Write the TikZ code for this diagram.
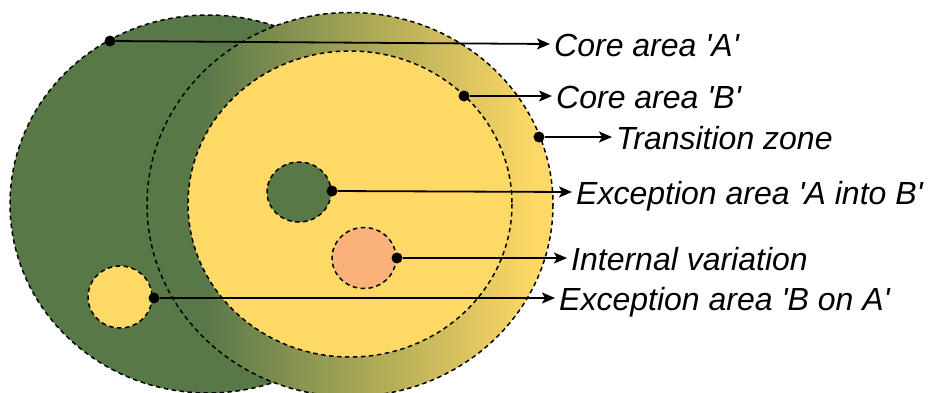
\documentclass[tikz,border=0pt]{standalone}
\usepackage{fontspec}
\setmainfont{Liberation Sans}[Ligatures=TeXOff]
\usetikzlibrary{arrows.meta}
\definecolor{agreen}{RGB}{88,120,72}
\definecolor{byellow}{RGB}{255,217,102}
\definecolor{corange}{RGB}{248,178,122}
\pgfdeclarehorizontalshading{transzone}{100bp}{color(0bp)=(agreen); color(32bp)=(agreen); color(73bp)=(byellow); color(100bp)=(byellow)}
\begin{document}
\begin{tikzpicture}[x=1pt,y=-1pt,
  zone/.style={draw=black, line width=1.5pt, dash pattern=on 4.5pt off 3.5pt},
  dot/.style={circle, fill=black, inner sep=0pt, minimum size=11pt},
  lbl/.style={anchor=west, inner xsep=4pt, inner ysep=0pt, text height=24pt, text depth=0pt, font=\fontsize{32}{38}\selectfont\itshape},
  conn/.style={line width=1.8pt, -{Stealth[length=13pt,width=11pt,inset=3pt]}}]
\useasboundingbox (0,0) rectangle (931,392);
\begin{scope}
\clip (0,0) rectangle (931,392);
\path[zone, fill=agreen] (208,204) ellipse [x radius=198, y radius=189];
\path[zone, fill=byellow] (120,297) ellipse [x radius=32, y radius=31];
\path[zone, shading=transzone] (350,204.5) ellipse [x radius=203, y radius=192];
\path[zone, fill=byellow] (350,204) ellipse [x radius=162, y radius=153];
\path[zone, fill=agreen] (299,192) ellipse [x radius=32, y radius=30];
\path[zone, fill=corange] (364,258) ellipse [x radius=32, y radius=30.5];
\end{scope}
% dots
\node[dot] (d1) at (110,41) {};
\node[dot] (d2) at (464,96) {};
\node[dot] (d3) at (539,137) {};
\node[dot] (d4) at (332,191) {};
\node[dot] (d5) at (397,258) {};
\node[dot] (d6) at (154,298) {};
% labels
\node[lbl] (l1) at (550,44) {Core area 'A'};
\node[lbl] (l2) at (552,96) {Core area 'B'};
\node[lbl] (l3) at (612,137) {Transition zone};
\node[lbl] (l4) at (572,192) {Exception area 'A into B'};
\node[lbl] (l5) at (567,258) {Internal variation};
\node[lbl] (l6) at (555,298) {Exception area 'B on A'};
% connectors
\draw[conn] (d1) -- (l1.west);
\draw[conn] (d2) -- (l2.west);
\draw[conn] (d3) -- (l3.west);
\draw[conn] (d4) -- (l4.west);
\draw[conn] (d5) -- (l5.west);
\draw[conn] (d6) -- (l6.west);
\end{tikzpicture}
\end{document}
